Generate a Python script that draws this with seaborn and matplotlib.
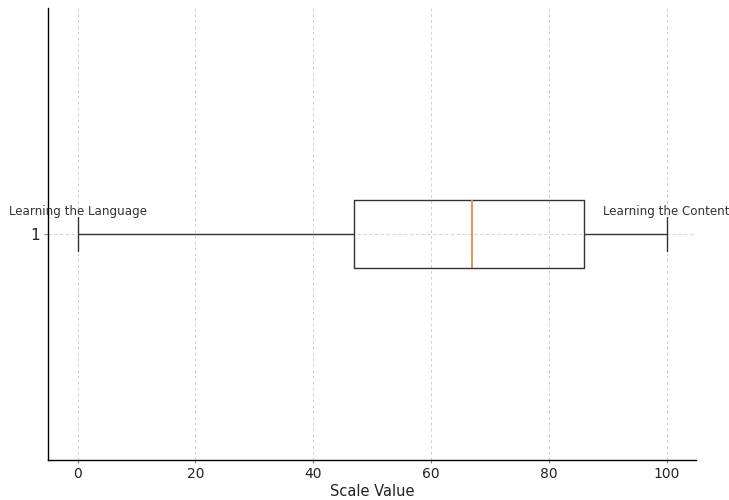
import matplotlib
matplotlib.use("Agg")
import matplotlib.pyplot as plt
import seaborn as sns
import pandas as pd

# Five-number summary (min, Q1, median, Q3, max)
scale_values = [0, 47, 67, 86, 100]
box_label = "1"
low_label = "Learning the Language"
high_label = "Learning the Content"

df = pd.DataFrame({"Scale Value": scale_values})

sns.set_style("white")
fig, ax = plt.subplots(figsize=(7.29, 5.0), dpi=100)

sns.boxplot(
    data=df, x="Scale Value", orient="h", width=0.15, whis=1.5,
    fill=False, color="#333333", linewidth=1.0,
    medianprops=dict(color="#f08a3c", linewidth=1.3),
    capwidths=0.075, ax=ax,
)

ax.set_ylim(-0.5, 0.5)
ax.set_yticks([0])
ax.set_yticklabels([box_label])
ax.set_ylabel("")
ax.set_xlim(-5, 105)
ax.set_xticks([0, 20, 40, 60, 80, 100])
ax.tick_params(axis="x", labelsize=10, labelcolor="#222222", color="#888888",
               length=2.5, pad=2.5, bottom=True)
ax.tick_params(axis="y", labelsize=11, labelcolor="#222222", color="#888888",
               length=3, pad=3, left=True)
ax.set_xlabel("Scale Value", fontsize=10.5, color="#222222", labelpad=2)

ax.grid(True, linestyle=(0, (3, 3)), color="#cfcfcf", linewidth=0.7)
ax.set_axisbelow(True)
for side in ["top", "right"]:
    ax.spines[side].set_visible(False)
for side in ["left", "bottom"]:
    ax.spines[side].set_color("#000000")
    ax.spines[side].set_linewidth(1.0)

ax.text(scale_values[0], 0.05, low_label, ha="center", va="center", fontsize=8.6, color="#333333")
ax.text(scale_values[-1], 0.05, high_label, ha="center", va="center", fontsize=8.6, color="#333333")

plt.subplots_adjust(left=0.066, right=0.955, top=0.984, bottom=0.08)
plt.savefig("out.png", dpi=100)
